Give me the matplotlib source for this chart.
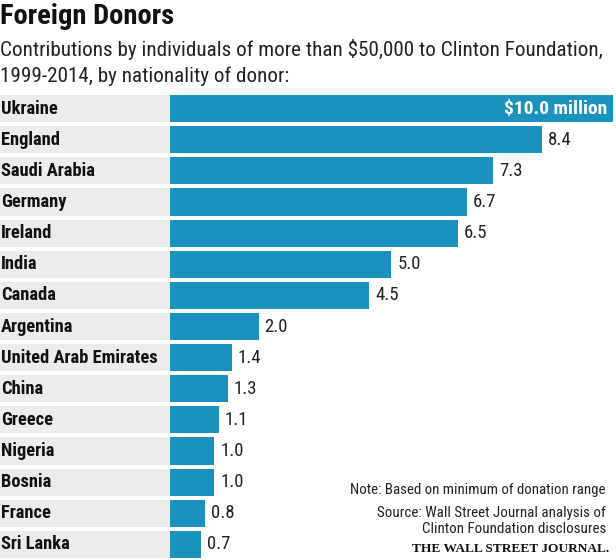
import matplotlib
matplotlib.use("Agg")
import matplotlib.pyplot as plt

# Data
countries = ["Ukraine", "England", "Saudi Arabia", "Germany", "Ireland", "India",
             "Canada", "Argentina", "United Arab Emirates", "China", "Greece",
             "Nigeria", "Bosnia", "France", "Sri Lanka"]
amounts = [10.0, 8.4, 7.3, 6.7, 6.5, 5.0, 4.5, 2.0, 1.4, 1.3, 1.1, 1.0, 1.0, 0.8, 0.7]

BAR_COLOR = "#1b92bd"
BAND_COLOR = "#ececec"
NARROW = ["Roboto Condensed", "DejaVu Sans"]
SERIF = ["Liberation Serif", "DejaVu Serif"]

W, H = 616, 560
fig = plt.figure(figsize=(W / 100, H / 100), dpi=100)

# axes spans the full width; pixels -> data mapping set by xlim
px_per_unit = (613 - 170) / 10.0
xmin = -170 / px_per_unit
xmax = (W - 170) / px_per_unit
ax_top, ax_bot = 93, 560
ax = fig.add_axes([0, 1 - ax_bot / H, 1, (ax_bot - ax_top) / H])
ax.set_xlim(xmin, xmax)
ax.set_ylim(len(countries) - 0.5, -0.5)
ax.axis("off")

ys = range(len(countries))
ax.barh(ys, [-xmin] * len(countries), left=xmin, height=0.87, color=BAND_COLOR)
ax.barh(ys, amounts, height=0.87, color=BAR_COLOR)

for y, (name, val) in enumerate(zip(countries, amounts)):
    ax.text(xmin + 1 / px_per_unit, y, name, ha="left", va="center",
            fontsize=13.3, fontweight=800, family=NARROW, color="#111111")
    if y == 0:
        ax.text(val - 6 / px_per_unit, y, f"${val:.1f} million", ha="right",
                va="center", fontsize=14, fontweight="bold", family=NARROW,
                color="white")
    else:
        ax.text(val + 6 / px_per_unit, y, f"{val:.1f}", ha="left", va="center",
                fontsize=13.5, family=NARROW, color="#222222")

# Titles
fig.text(0, 1 - 17 / H, "Foreign Donors", ha="left", va="center", fontsize=20.5,
         fontweight=800, family=NARROW, color="#111111")
fig.text(0, 1 - 50 / H,
         "Contributions by individuals of more than $50,000 to Clinton Foundation,",
         ha="left", va="center", fontsize=15.2, family=NARROW, color="#222222")
fig.text(0, 1 - 76 / H, "1999-2014, by nationality of donor:", ha="left",
         va="center", fontsize=15.2, family=NARROW, color="#222222")

# Notes
fig.text(606 / W, 1 - 490 / H, "Note: Based on minimum of donation range",
         ha="right", va="center", fontsize=10.7, family=NARROW, color="#222222")
fig.text(606 / W, 1 - 513 / H, "Source: Wall Street Journal analysis of",
         ha="right", va="center", fontsize=10.8, family=NARROW, color="#222222")
fig.text(606 / W, 1 - 529 / H, "Clinton Foundation disclosures",
         ha="right", va="center", fontsize=10.8, family=NARROW, color="#222222")
fig.text(609 / W, 1 - 549 / H, "THE WALL STREET JOURNAL.", ha="right",
         va="center", fontsize=9.6, fontweight="bold", family=SERIF,
         color="#111111")

fig.savefig("out.png", dpi=100)
